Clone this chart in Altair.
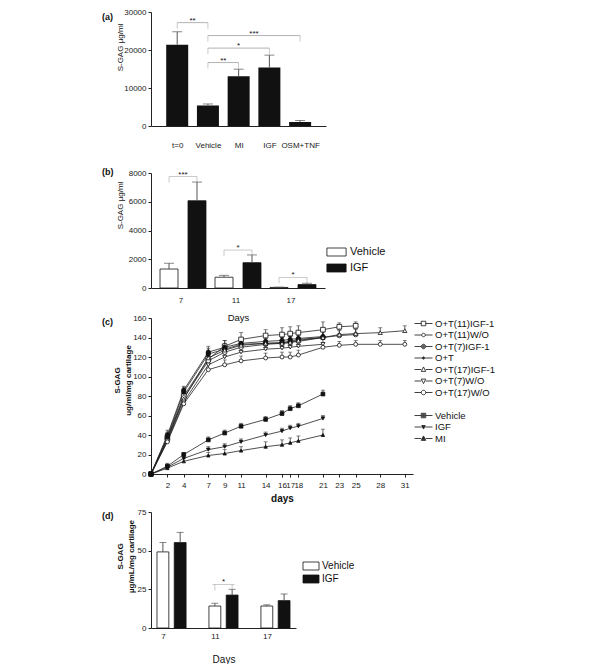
import json
import altair as alt
import pandas as pd

FONT = "Liberation Sans"
INK = "#111111"
GREY = "#555555"
BRK = "#a0a0a0"

# ---------------- panel (a) ----------------
a_groups = ["t=0", "Vehicle", "MI", "IGF", "OSM+TNF"]
a_values = [21400, 5400, 13100, 15400, 1050]
a_err_top = [24800, 5800, 14950, 18650, 1450]
a_yticks = [0, 10000, 20000, 30000]
a_br_from = [0, 1, 1, 1]
a_br_to = [1, 4, 3, 2]
a_br_level = [27200, 23800, 20500, 16700]
a_br_label = ["**", "***", "*", "**"]

# ---------------- panel (b) ----------------
b_days = ["7", "11", "17"]
b_groups = ["Vehicle", "IGF"]
b_vehicle = [1320, 750, 40]
b_vehicle_err = [1720, 880, 60]
b_igf = [6070, 1760, 240]
b_igf_err = [7370, 2300, 330]
b_yticks = [0, 2000, 4000, 6000, 8000]
b_br_level = [7750, 2640, 740]
b_br_label = ["***", "*", "*"]

# ---------------- panel (c) ----------------
c_series = ["O+T(11)IGF-1", "O+T(11)W/O", "O+T(7)IGF-1", "O+T", "O+T(17)IGF-1",
            "O+T(7)W/O", "O+T(17)W/O", "Vehicle", "IGF", "MI"]
days_to21 = [0, 2, 4, 7, 9, 11, 14, 16, 17, 18, 21]
days_to25 = [0, 2, 4, 7, 9, 11, 14, 16, 17, 18, 21, 23, 25]
days_to31 = [0, 2, 4, 7, 9, 11, 14, 16, 17, 18, 21, 23, 25, 28, 31]
ot11_igf = [0, 37, 80, 118, 131, 138, 142, 143, 144, 145, 148, 151, 152]
ot11_igf_err = [0, 5, 5, 6, 6, 7, 6, 7, 7, 7, 8, 4, 4]
ot11_wo = [0, 36, 78, 116, 125, 130, 133, 134, 135, 136, 140, 142, 143]
ot11_wo_err = [0, 4, 4, 5, 5, 6, 6, 6, 6, 6, 6, 5, 5]
ot7_igf = [0, 38, 84, 123, 128, 133, 134, 135, 136, 138, 140]
ot7_igf_err = [0, 5, 5, 6, 6, 6, 6, 6, 6, 6, 6]
ot = [0, 40, 86, 125, 130, 134, 136, 137, 138, 139, 141]
ot_err = [0, 5, 4, 6, 7, 6, 6, 6, 6, 6, 6]
ot17_igf = [0, 35, 77, 119, 127, 132, 134, 134, 135, 137, 140, 143, 144, 145, 147]
ot17_igf_err = [0, 4, 4, 6, 5, 6, 6, 6, 6, 6, 6, 5, 5, 5, 5]
ot7_wo = [0, 34, 74, 112, 120, 125, 128, 129, 130, 131, 133]
ot7_wo_err = [0, 4, 4, 5, 5, 5, 5, 5, 5, 5, 5]
ot17_wo = [0, 33, 72, 107, 112, 116, 119, 120, 120, 122, 130, 132, 133, 133, 133]
ot17_wo_err = [0, 4, 4, 5, 5, 5, 5, 5, 5, 5, 5, 4, 4, 4, 4]
vehicle = [0, 8, 20, 35, 42, 49, 56, 62, 67, 70, 82]
vehicle_err = [0, 3, 2, 3, 3, 3, 3, 3, 3, 3, 4]
igf = [0, 7, 16, 25, 28, 33, 40, 44, 47, 49, 57]
igf_err = [0, 3, 3, 3, 3, 3, 3, 3, 3, 3, 3]
mi = [0, 6, 13, 19, 21, 24, 28, 30, 32, 34, 40]
mi_err = [0, 3, 3, 3, 4, 4, 5, 5, 5, 5, 6]
c_xticks = [2, 4, 7, 9, 11, 14, 16, 17, 18, 21, 23, 25, 28, 31]
c_yticks = [0, 20, 40, 60, 80, 100, 120, 140, 160]

# ---------------- panel (d) ----------------
d_days = ["7", "11", "17"]
d_groups = ["Vehicle", "IGF"]
d_vehicle = [49.2, 14.2, 14.2]
d_vehicle_err = [55.3, 16.0, 15.0]
d_igf = [55.2, 21.3, 17.7]
d_igf_err = [61.8, 25.0, 22.0]
d_yticks = [0, 25, 50, 75]
d_br_day = ["11"]
d_br_level = [28.2]
d_br_label = ["*"]


# ---------------- helpers (styling only) ----------------
LABEL_X = -49
GAP = 30


def panel_label(text, y):
    return alt.Chart(pd.DataFrame({"t": [text]})).mark_text(
        align="left", baseline="middle", fontWeight="bold", fontSize=9, font=FONT, color=INK
    ).encode(text="t:N", x=alt.value(LABEL_X), y=alt.value(y))


def r3(v):
    return round(v, 3)


def _sq(r):
    return f"M{r3(-r)},{r3(-r)}L{r3(r)},{r3(-r)}L{r3(r)},{r3(r)}L{r3(-r)},{r3(r)}Z"


def _ci(r):
    return f"M{r3(r)},0A{r3(r)},{r3(r)},0,1,1,{r3(-r)},0A{r3(r)},{r3(r)},0,1,1,{r3(r)},0Z"


def _tu(r):
    return f"M0,{r3(-1.15*r)}L{r3(r)},{r3(0.85*r)}L{r3(-r)},{r3(0.85*r)}Z"


def _td(r):
    return f"M0,{r3(1.15*r)}L{r3(r)},{r3(-0.85*r)}L{r3(-r)},{r3(-0.85*r)}Z"


def _filled(f, r):
    return f(r) + f(r * 0.6) + f(r * 0.25)


def _stub(r, L=1.8):
    return f"M{-L},0L{r3(-r)},0M{r3(r)},0L{L},0"


def y_axis(title, ticks, tx, ty, bold=False, fmt="d"):
    return alt.Axis(values=ticks, tickCount=len(ticks), format=fmt, title=title,
                    titleX=tx, titleY=ty, titleAngle=270,
                    titleBaseline="middle", titleAlign="center", titleFontSize=8,
                    titleFontWeight="bold" if bold else "normal", titleLineHeight=11,
                    tickSize=3, labelPadding=2, grid=False, labelOverlap=False,
                    labelFlush=False)


# ================= (a) =================
HA = 114          # drawn height of the axis
EXTRA_A = 17      # extra blank room below (gap to panel b)
dfa = pd.DataFrame({"pos": list(range(len(a_groups))), "group": a_groups,
                    "value": a_values, "err": a_err_top})
xa = alt.X("pos:Q", scale=alt.Scale(domain=[-0.69, 4.68], nice=False, zero=False),
           axis=alt.Axis(values=list(range(len(a_groups))), tickCount=len(a_groups),
                         labelExpr=json.dumps(a_groups) + "[datum.value]",
                         tickSize=0, ticks=False, labelPadding=15, title=None, grid=False,
                         labelOverlap=False, labelFlush=False, offset=-EXTRA_A))
ya = alt.Y("value:Q", scale=alt.Scale(domain=[0, 30000], nice=False, range=[HA, 0]),
           axis=y_axis("S-GAG µg/ml", a_yticks, -31, 35))
base_a = alt.Chart(dfa)
a_bars = base_a.mark_bar(width=22, color=INK, orient="vertical").encode(x=xa, y=ya)
a_err = base_a.mark_rule(color=GREY, strokeWidth=1).encode(x="pos:Q", y="value:Q", y2="err:Q")
a_cap = base_a.mark_tick(orient="horizontal", size=10, thickness=1, color=GREY).encode(
    x="pos:Q", y="err:Q")
dfa_br = pd.DataFrame({"x1": a_br_from, "x2": a_br_to, "level": a_br_level, "label": a_br_label})
a_br_rule = alt.Chart(dfa_br).mark_rule(color=BRK, strokeWidth=0.8).encode(
    x="x1:Q", x2="x2:Q", y="level:Q")
a_br_text = alt.Chart(dfa_br).transform_calculate(mid="(datum.x1 + datum.x2) / 2").mark_text(
    baseline="alphabetic", fontSize=8, color=INK, font=FONT).encode(
    x="mid:Q", y="level:Q", text="label:N")
dfa_ends = pd.DataFrame({"pos": a_br_from + a_br_to, "level": a_br_level + a_br_level})
a_br_end = alt.Chart(dfa_ends).mark_tick(orient="vertical", size=6, thickness=0.8, color=BRK,
                                         yOffset=3).encode(x="pos:Q", y="level:Q")
panel_a = alt.layer(a_bars, a_err, a_cap, a_br_rule, a_br_end, a_br_text,
                    panel_label("(a)", 5)).properties(width=175, height=HA + EXTRA_A)


# ================= grouped bar panels (b), (d) =================
def grouped_panel(days, groups, veh, veh_err, ig, ig_err, yticks, ydomain, ytitle, tx, ty, bold,
                  pin, pout, pin2, label_offset, label_pad, title_pad, title_size,
                  br_days, br_levels, br_labels, br_width, cap, legend, letter, letter_y,
                  width, height):
    df = pd.DataFrame({"day": days * 2,
                       "group": [g for g in groups for _ in days],
                       "value": veh + ig,
                       "err": veh_err + ig_err})
    x = alt.X("day:N", sort=days, scale=alt.Scale(paddingInner=pin, paddingOuter=pout),
              axis=alt.Axis(title="Days", labelAngle=0, ticks=False, tickSize=0,
                            labelPadding=label_pad, titlePadding=title_pad, labelOffset=label_offset,
                            titleFontSize=title_size, titleFontWeight="normal", grid=False,
                            labelOverlap=False))
    xo = alt.XOffset("group:N", sort=groups, scale=alt.Scale(paddingInner=pin2, paddingOuter=0))
    y = alt.Y("value:Q", scale=alt.Scale(domain=ydomain, nice=False),
              axis=y_axis(ytitle, yticks, tx, ty, bold=bold))
    base = alt.Chart(df)
    bars = base.mark_bar(stroke=INK, strokeWidth=0.8).encode(
        x=x, xOffset=xo, y=y,
        fill=alt.Fill("group:N", sort=groups,
                      scale=alt.Scale(domain=groups, range=["white", INK]), legend=legend))
    err = base.mark_rule(color=GREY, strokeWidth=1).encode(
        x=alt.X("day:N", sort=days), xOffset=alt.XOffset("group:N", sort=groups),
        y="value:Q", y2="err:Q")
    caps = base.mark_tick(orient="horizontal", size=cap, thickness=1, color=GREY).encode(
        x=alt.X("day:N", sort=days), xOffset=alt.XOffset("group:N", sort=groups), y="err:Q")
    dbr = pd.DataFrame({"day": br_days, "level": br_levels, "label": br_labels})
    br_line = alt.Chart(dbr).mark_tick(orient="horizontal", size=br_width, thickness=0.8,
                                       color=BRK).encode(x=alt.X("day:N", sort=days), y="level:Q")
    dends = pd.DataFrame({"day": br_days * 2,
                          "group": [g for g in groups for _ in br_days],
                          "level": br_levels * 2})
    br_end = alt.Chart(dends).mark_tick(orient="vertical", size=6, thickness=0.8, color=BRK,
                                        yOffset=3).encode(
        x=alt.X("day:N", sort=days), xOffset=alt.XOffset("group:N", sort=groups), y="level:Q")
    br_text = alt.Chart(dbr).mark_text(baseline="alphabetic", fontSize=8, color=INK,
                                       font=FONT).encode(
        x=alt.X("day:N", sort=days), y="level:Q", text="label:N")
    return alt.layer(bars, err, caps, br_line, br_end, br_text,
                     panel_label(letter, letter_y)).properties(width=width, height=height)


rect_b = "M-2.4,-1L2.4,-1L2.4,1L-2.4,1Z"
legend_b = alt.Legend(title=None, orient="none", legendX=180, legendY=73.5, symbolType=rect_b,
                      symbolSize=64, symbolStrokeColor=INK, symbolStrokeWidth=0.8,
                      labelFontSize=11, labelOffset=8, rowPadding=3, padding=0,
                      labelColor=INK, labelFont=FONT)
panel_b = grouped_panel(b_days, b_groups, b_vehicle, b_vehicle_err, b_igf, b_igf_err, b_yticks,
                        [0, 8000], "S-GAG µg/ml", -31, 32, False,
                        0.164, 0.164, 0.357, -2, 8, 8, 9.5,
                        b_days, b_br_level, b_br_label, 28, 10, legend_b, "(b)", -1,
                        174, 115)

rect_d = "M-2,-1L2,-1L2,1L-2,1Z"
legend_d = alt.Legend(title=None, orient="none", legendX=155, legendY=49, symbolType=rect_d,
                      symbolSize=64, symbolStrokeColor=INK, symbolStrokeWidth=0.8,
                      labelFontSize=10, labelOffset=6, rowPadding=1, padding=0,
                      labelColor=INK, labelFont=FONT)
panel_d = grouped_panel(d_days, d_groups, d_vehicle, d_vehicle_err, d_igf, d_igf_err, d_yticks,
                        [0, 75], ["S-GAG", "µg/mL/mg cartilage"], -31, 44, True,
                        0.44, 0.115, 0.314, -8, 4.5, 13.5, 10,
                        d_br_day, d_br_level, d_br_label, 22, 7, legend_d, "(d)", 4,
                        145, 116)

# ================= (c) =================
c_days_list = [days_to25, days_to25, days_to21, days_to21, days_to31, days_to21, days_to31,
               days_to21, days_to21, days_to21]
c_vals_list = [ot11_igf, ot11_wo, ot7_igf, ot, ot17_igf, ot7_wo, ot17_wo, vehicle, igf, mi]
c_errs_list = [ot11_igf_err, ot11_wo_err, ot7_igf_err, ot_err, ot17_igf_err, ot7_wo_err,
               ot17_wo_err, vehicle_err, igf_err, mi_err]
rows = []
for name, ds, vs, es in zip(c_series, c_days_list, c_vals_list, c_errs_list):
    for d, v, e in zip(ds, vs, es):
        rows.append({"series": name, "day": d, "value": v, "err": e})
dfc = pd.DataFrame(rows)

plot_shapes = ["square", "circle", "circle", "circle", "triangle-up", "triangle-down", "circle",
               "square", "triangle-down", "triangle-up"]
plot_fills = ["white", "white", INK, INK, "white", "white", "white", INK, INK, INK]
plot_sizes = [22, 12, 20, 8, 22, 20, 22, 20, 14, 16]

legend_domain = c_series[:7] + [" "] + c_series[7:]
R = 0.45
legend_glyphs = [
    _stub(R) + _sq(R),
    _stub(0.35) + _ci(0.35),
    _stub(R) + _filled(_ci, R),
    _stub(0.22) + _filled(_ci, 0.22),
    _stub(R) + _tu(R),
    _stub(R) + _td(R),
    _stub(R) + _ci(R),
    "M0,0",
    _stub(R) + _filled(_sq, R),
    _stub(0.35) + _filled(_td, 0.35),
    _stub(R) + _filled(_tu, R),
]

HC = 156          # drawn height of the axis
EXTRA_C = 8       # extra blank room below (gap to panel d)
xc = alt.X("day:Q", scale=alt.Scale(domain=[0, 32], nice=False),
           axis=alt.Axis(values=c_xticks, tickCount=len(c_xticks), title="days",
                         titleFontWeight="bold", titleFontSize=10,
                         tickSize=3, labelPadding=4, titlePadding=4, grid=False,
                         labelOverlap=False, labelFlush=False, offset=-EXTRA_C))
yc = alt.Y("value:Q", scale=alt.Scale(domain=[0, 160], nice=False, range=[HC, 0]),
           axis=y_axis(["S-GAG", "ug/ml/mg cartilage"], c_yticks, -34, 62, bold=True))
base_c = alt.Chart(dfc)
c_err = base_c.transform_filter("datum.err > 0").transform_calculate(
    top="datum.value + datum.err").mark_rule(color="#333333", strokeWidth=0.8).encode(
    x="day:Q", y="value:Q", y2="top:Q")
c_cap = base_c.transform_filter("datum.err > 0").transform_calculate(
    top="datum.value + datum.err").mark_tick(orient="horizontal", size=4, thickness=0.8,
                                             color="#333333").encode(x="day:Q", y="top:Q")
c_lines = base_c.mark_line(color="#222222", strokeWidth=0.8).encode(
    x=xc, y=yc, detail="series:N", order="day:Q")
c_pts = base_c.mark_point(stroke=INK, strokeWidth=0.8, opacity=1, filled=False).encode(
    x="day:Q", y="value:Q",
    shape=alt.Shape("series:N", scale=alt.Scale(domain=c_series, range=plot_shapes), legend=None),
    fill=alt.Fill("series:N", scale=alt.Scale(domain=c_series, range=plot_fills), legend=None),
    size=alt.Size("series:N", scale=alt.Scale(domain=c_series, range=plot_sizes), legend=None))
c_leg = base_c.mark_point(stroke=INK, strokeWidth=0.8, opacity=0, filled=False).encode(
    x="day:Q", y="value:Q",
    shape=alt.Shape("series:N", scale=alt.Scale(domain=legend_domain, range=legend_glyphs),
                    legend=alt.Legend(title=None, orient="none", legendX=267, legendY=0,
                                      symbolSize=100, symbolStrokeColor=INK, symbolStrokeWidth=0.8,
                                      symbolOpacity=1, labelFontSize=9.5, labelOffset=6,
                                      rowPadding=1.5, padding=0, labelColor=INK, labelFont=FONT)))
panel_c = alt.layer(c_err, c_cap, c_lines, c_pts, c_leg,
                    panel_label("(c)", 4)).resolve_scale(shape="independent").properties(
    width=262, height=HC + EXTRA_C)

chart = alt.vconcat(panel_a, panel_b, panel_c, panel_d, spacing=GAP, bounds="flush").resolve_scale(
    fill="independent", shape="independent", size="independent", xOffset="independent"
).resolve_legend(fill="independent", shape="independent").properties(
    padding={"left": 94, "top": 0, "right": 5, "bottom": 0}
).configure_view(stroke=None).configure_axis(
    labelFont=FONT, titleFont=FONT, labelFontSize=8, labelColor="#222222", titleColor=INK,
    domainColor="#222222", tickColor="#222222", grid=False
).configure_legend(labelFont=FONT).configure_text(font=FONT)

chart.save("out.html", embed_options={"renderer": "svg", "actions": False})
